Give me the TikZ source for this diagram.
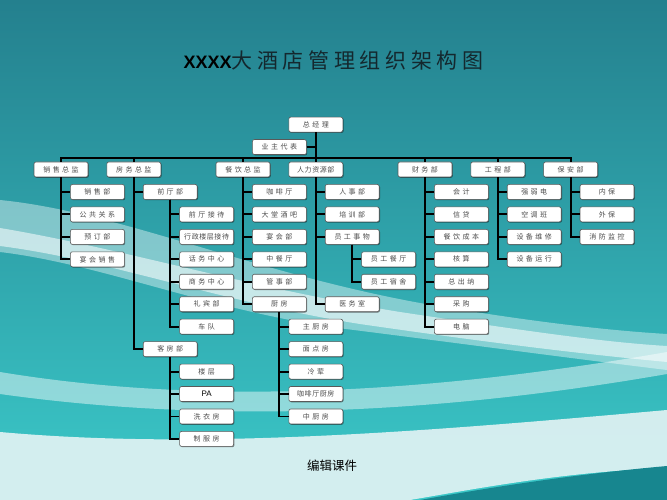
\documentclass[tikz,border=0pt]{standalone}
\usepackage{fontspec}
\usetikzlibrary{shadows}
\newfontfamily\cjkbox[LetterSpace=35]{Noto Sans CJK SC}
\newfontfamily\cjktight[LetterSpace=8]{Noto Sans CJK SC}
\newfontfamily\cjktitle[LetterSpace=22]{Noto Sans CJK SC}
\newfontfamily\cjkplain{Noto Sans CJK SC}
\newfontfamily\latinsans{Liberation Sans}
\definecolor{bgA}{HTML}{24808E}
\definecolor{bgB}{HTML}{2CAEB4}
\definecolor{bgC}{HTML}{3BC9C9}
\definecolor{deepteal}{HTML}{17868F}
\definecolor{pale}{HTML}{E4F3F4}
\definecolor{titlecol}{HTML}{14282E}
\tikzset{
  box/.style={draw=black!65, fill=white, rounded corners=2pt, minimum width=54pt,
    minimum height=15pt, inner sep=0pt, line width=0.6pt,
    font=\cjkbox\fontsize{7}{8}\selectfont, text=black!70,
    drop shadow={shadow xshift=0.8pt, shadow yshift=-0.8pt, opacity=0.45, fill=black}},
  tightbox/.style={box, font=\cjktight\fontsize{7}{8}\selectfont},
  conn/.style={draw=black, line width=1.9pt}
}
\begin{document}
\begin{tikzpicture}[x=1pt,y=-1pt]
\useasboundingbox (0,0) rectangle (667,500);
% background
\shade[top color=bgA, middle color=bgB, bottom color=bgC] (0,0) rectangle (667,500);
\fill[white, opacity=0.40] (0,200) .. controls (120,212) and (250,272) .. (420,303)
  .. controls (520,320) and (600,330) .. (667,334) -- (667,370)
  .. controls (560,357) and (450,342) .. (330,327) .. controls (200,307) and (100,264) .. (0,252) -- cycle;
\fill[white, opacity=0.55] (0,228) .. controls (120,248) and (250,288) .. (400,312)
  .. controls (520,330) and (600,342) .. (667,346) -- (667,362)
  .. controls (560,352) and (450,337) .. (360,324) .. controls (220,302) and (110,260) .. (0,246) -- cycle;
\fill[white, opacity=0.45] (0,372) .. controls (200,405) and (420,395) .. (667,352) -- (667,374)
  .. controls (420,417) and (200,422) .. (0,394) -- cycle;
\fill[pale, opacity=0.9] (0,432) .. controls (200,450) and (420,432) .. (667,410) -- (667,468)
  .. controls (560,472) and (470,490) .. (410,500) -- (0,500) -- cycle;
\fill[deepteal] (420,500) .. controls (520,482) and (600,472) .. (667,466) -- (667,500) -- cycle;
% title and footer
\node[text=titlecol, inner sep=0pt] (title) at (333.5,60)
  {{\latinsans\bfseries\fontsize{18}{20}\selectfont\color{black}XXXX}{\cjktitle\fontsize{21}{24}\selectfont 大酒店管理组织架构图}};
\node[inner sep=0pt, font=\cjkplain\fontsize{12.5}{14}\selectfont] (foot) at (332,466) {编辑课件};
% chart
\begin{scope}[shift={(61,169.5)}, x=36.4pt, y=-22.45pt]
\node[box] (zjl) at (7,-2) {总经理};
\node[box] (yz) at (6,-1) {业主代表};
\node[box] (xs) at (0,0) {销售总监};
\node[box] (fw) at (2,0) {房务总监};
\node[box] (cy) at (5,0) {餐饮总监};
\node[tightbox] (hr) at (7,0) {人力资源部};
\node[box] (cw) at (10,0) {财务部};
\node[box] (gc) at (12,0) {工程部};
\node[box] (ba) at (14,0) {保安部};
\coordinate (bus) at (7,-0.51);
\draw[conn] (zjl.south) -- (hr.north);
\draw[conn] (yz.east) -- (yz.east -| zjl.south);
\foreach \n in {xs,fw,cy,cw,gc,ba} \draw[conn] (\n.north) |- (bus);
% sales
\foreach \t [count=\i] in {销售部,公共关系,预订部,宴会销售}
  {\node[box] (xs\i) at (1,\i) {\t}; \draw[conn] (xs.south) |- (xs\i.west);}
% rooms division
\node[box] (qt) at (3,1) {前厅部};
\node[box] (kf) at (3,8) {客房部};
\draw[conn] (fw.south) |- (qt.west);
\draw[conn] (fw.south) |- (kf.west);
\node[box] (qt1) at (4,2) {前厅接待};
\node[tightbox] (qt2) at (4,3) {行政楼层接待};
\node[box] (qt3) at (4,4) {话务中心};
\node[box] (qt4) at (4,5) {商务中心};
\node[box] (qt5) at (4,6) {礼宾部};
\node[box] (qt6) at (4,7) {车队};
\foreach \i in {1,...,6} \draw[conn] (qt.south) |- (qt\i.west);
\node[box] (kf1) at (4,9) {楼层};
\node[box, text=black] (kf2) at (4,10) {\latinsans\fontsize{8}{9}\selectfont PA};
\node[box] (kf3) at (4,11) {洗衣房};
\node[box] (kf4) at (4,12) {制服房};
\foreach \i in {1,...,4} \draw[conn] (kf.south) |- (kf\i.west);
% food and beverage
\foreach \t [count=\i] in {咖啡厅,大堂酒吧,宴会部,中餐厅,管事部}
  {\node[box] (cy\i) at (6,\i) {\t}; \draw[conn] (cy.south) |- (cy\i.west);}
\node[box] (cf) at (6,6) {厨房};
\draw[conn] (cy.south) |- (cf.west);
\node[box] (cf1) at (7,7) {主厨房};
\node[box] (cf2) at (7,8) {面点房};
\node[box] (cf3) at (7,9) {冷荤};
\node[tightbox] (cf4) at (7,10) {咖啡厅厨房};
\node[box] (cf5) at (7,11) {中厨房};
\foreach \i in {1,...,5} \draw[conn] (cf.south) |- (cf\i.west);
% human resources
\node[box] (hr1) at (8,1) {人事部};
\node[box] (hr2) at (8,2) {培训部};
\node[box] (yg) at (8,3) {员工事物};
\node[box] (hr4) at (8,6) {医务室};
\foreach \n in {hr1,hr2,yg,hr4} \draw[conn] (hr.south) |- (\n.west);
\node[box] (yg1) at (9,4) {员工餐厅};
\node[box] (yg2) at (9,5) {员工宿舍};
\foreach \i in {1,2} \draw[conn] (yg.south) |- (yg\i.west);
% finance
\foreach \t [count=\i] in {会计,信贷,餐饮成本,核算,总出纳,采购,电脑}
  {\node[box] (cw\i) at (11,\i) {\t}; \draw[conn] (cw.south) |- (cw\i.west);}
% engineering
\foreach \t [count=\i] in {强弱电,空调班,设备维修,设备运行}
  {\node[box] (gc\i) at (13,\i) {\t}; \draw[conn] (gc.south) |- (gc\i.west);}
% security
\foreach \t [count=\i] in {内保,外保,消防监控}
  {\node[box] (ba\i) at (15,\i) {\t}; \draw[conn] (ba.south) |- (ba\i.west);}
\end{scope}
\end{tikzpicture}
\end{document}
